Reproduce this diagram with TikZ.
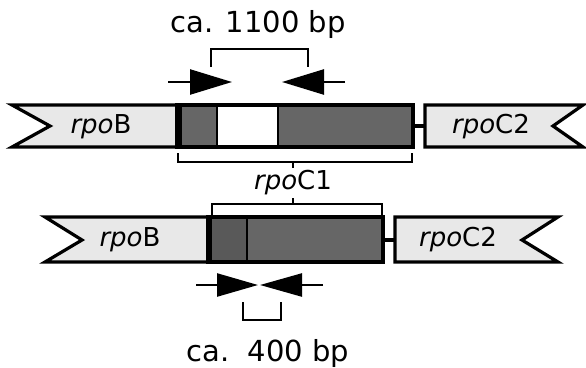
\documentclass[tikz,border=0pt]{standalone}
\usepackage{fontspec}
\setmainfont{DejaVu Sans}
\usetikzlibrary{arrows.meta}
\newcommand{\bplabel}{\fontsize{29}{31}\selectfont}
\newcommand{\genelabel}{\fontsize{26}{28}\selectfont}
\begin{document}
\begin{tikzpicture}[x=1pt,y=-1pt,
    gene/.style={draw, line width=3.2pt, fill=black!9, line join=miter},
    core/.style={fill=black!60},
    brack/.style={line width=2.4pt},
    primer/.style={line width=2.4pt, -{Triangle[length=42pt,width=25pt]}}]
  \useasboundingbox (0,0) rectangle (586,367);
  % upper map, full rpoC1
  \draw[gene] (12,105) -- (177,105) -- (177,147) -- (12,147) -- (50,126) -- cycle;
  \fill[core] (177,105) rectangle (217,147);
  \fill[white] (217,105) rectangle (278,147);
  \fill[core] (278,105) rectangle (413,147);
  \draw[line width=3.2pt] (177,105) rectangle (413,147);
  \draw[line width=2.4pt] (217,105) -- (217,147) (278,105) -- (278,147);
  \draw[line width=5pt] (179,105) -- (179,147);
  \draw[gene] (425,105) -- (583,105) -- (553,126) -- (583,147) -- (425,147) -- cycle;
  \coordinate (c1end) at (413,126);
  \coordinate (c2start) at (425,126);
  \draw[line width=3.2pt] (c1end) -- (c2start);
  \node (rpoBa) at (101,127) {\genelabel\textit{rpo}B};
  \node (rpoCa) at (491,127) {\genelabel\textit{rpo}C2};
  % primers and 1100 bp product
  \coordinate (fa) at (168,82);  \coordinate (fta) at (232,82);
  \coordinate (ra) at (345,82);  \coordinate (rta) at (282,82);
  \draw[primer] (fa) -- (fta);
  \draw[primer] (ra) -- (rta);
  \draw[brack] (211,67) -- (211,49) -- (308,49) -- (308,67);
  \node (long) at (258,24) {\bplabel ca. 1100 bp};
  % rpoC1 brackets
  \draw[brack] (178,153) -- (178,162) -- (412,162) -- (412,153) (293,162) -- (293,168);
  \node (rpoC1) at (293,183) {\genelabel\textit{rpo}C1};
  \draw[brack] (212,217) -- (212,204) -- (382,204) -- (382,217) (293,204) -- (293,198);
  % lower map, deleted rpoC1
  \draw[gene] (45,217) -- (208,217) -- (208,262) -- (45,262) -- (82,240) -- cycle;
  \fill[black!65] (208,217) rectangle (247,262);
  \fill[core] (247,217) rectangle (383,262);
  \draw[line width=3.2pt] (208,217) rectangle (383,262);
  \draw[line width=2.4pt] (247,217) -- (247,262);
  \draw[line width=4pt] (210,217) -- (210,262);
  \draw[gene] (395,217) -- (558,217) -- (522,240) -- (558,262) -- (395,262) -- cycle;
  \coordinate (c1endb) at (383,240);
  \coordinate (c2startb) at (395,240);
  \draw[line width=3.2pt] (c1endb) -- (c2startb);
  \node (rpoBb) at (130,240) {\genelabel\textit{rpo}B};
  \node (rpoCb) at (458,240) {\genelabel\textit{rpo}C2};
  % primers and 400 bp product
  \coordinate (fb) at (196,285);  \coordinate (ftb) at (258,285);
  \coordinate (rb) at (323,285);  \coordinate (rtb) at (260,285);
  \draw[primer, -{Triangle[length=41pt,width=23pt]}] (fb) -- (ftb);
  \draw[primer, -{Triangle[length=42pt,width=23pt]}] (rb) -- (rtb);
  \draw[brack] (243,302) -- (243,320) -- (281,320) -- (281,302);
  \node (short) at (268,353) {\bplabel ca.\ \ 400 bp};
\end{tikzpicture}
\end{document}
